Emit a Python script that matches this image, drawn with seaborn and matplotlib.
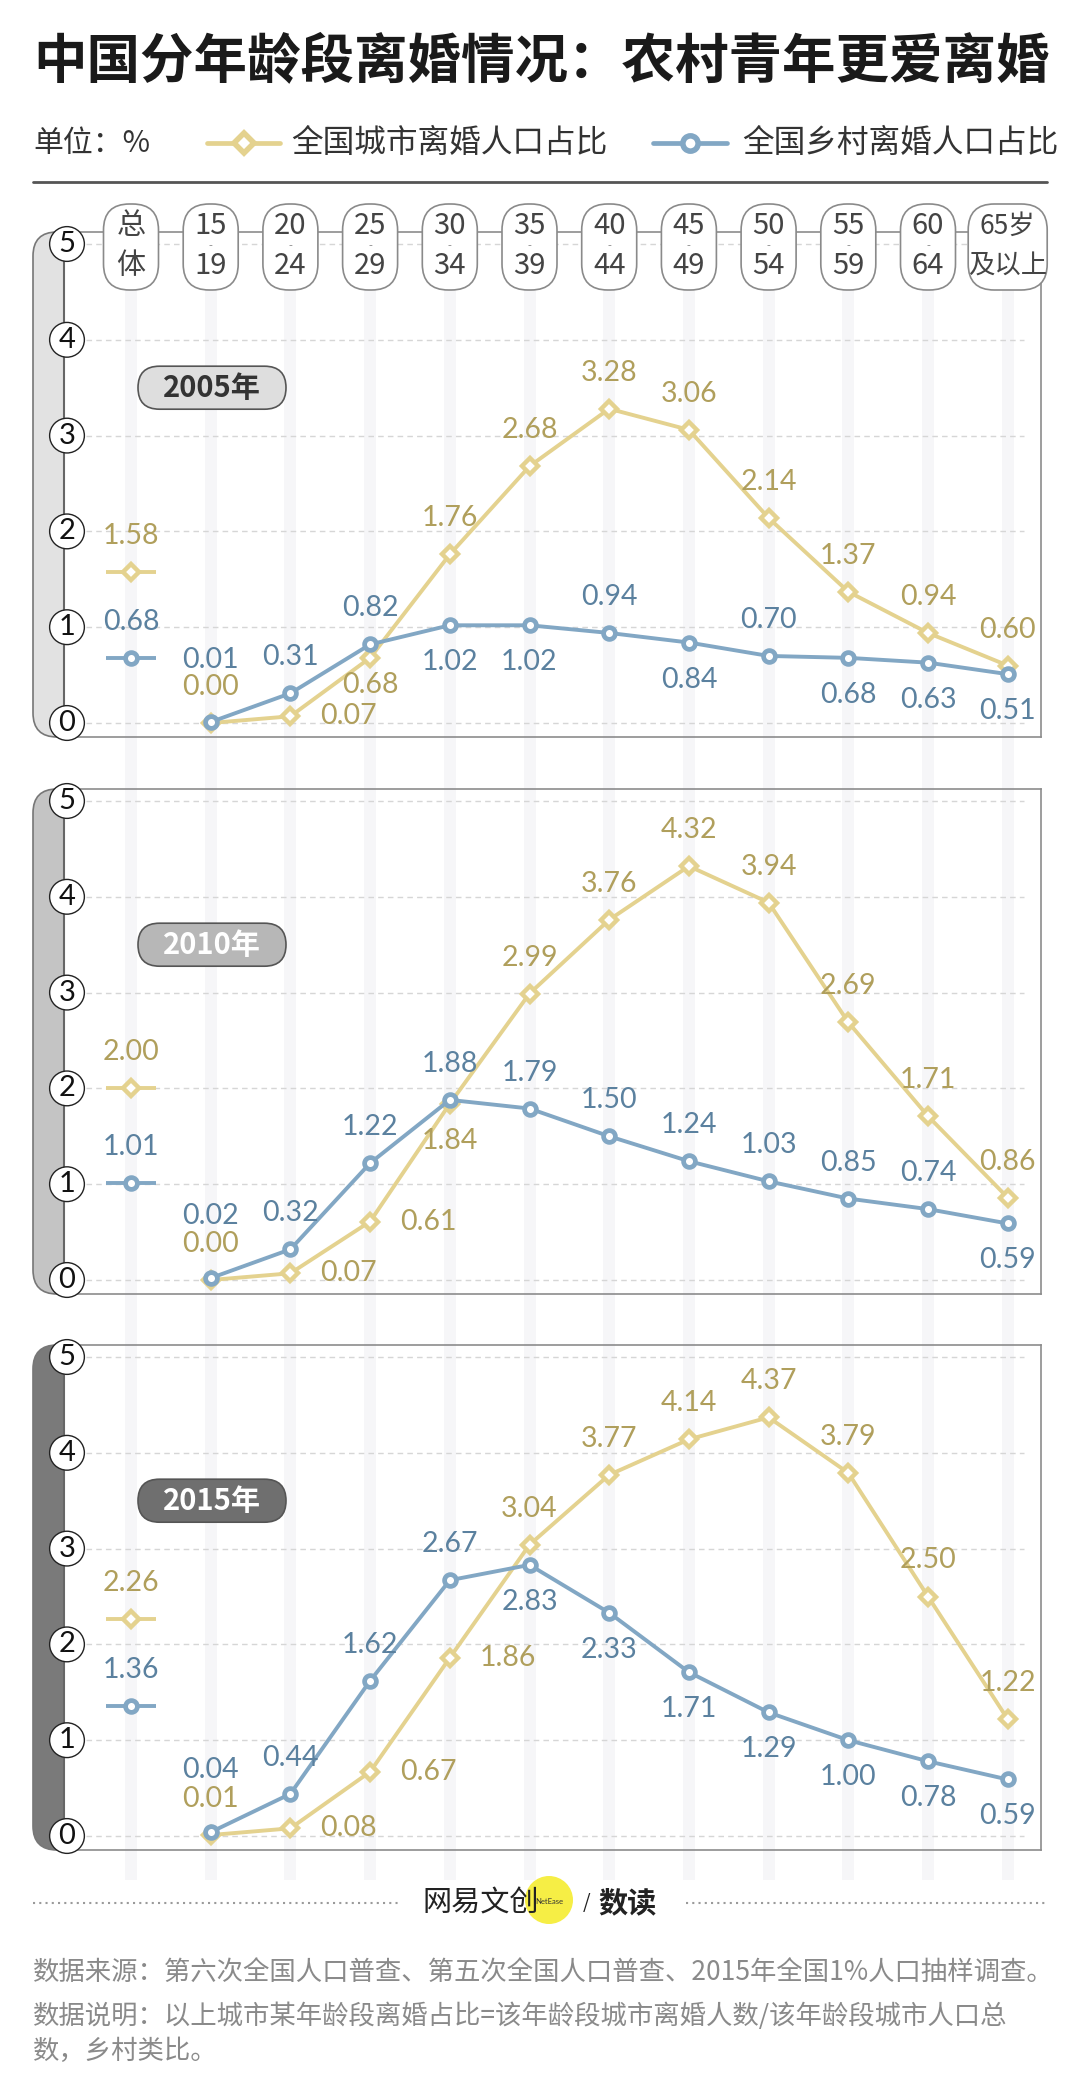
import numpy as np
import pandas as pd
import matplotlib.pyplot as plt
from matplotlib.patches import FancyBboxPatch, Rectangle, Circle
import seaborn as sns

# ---- data ----
header_top = ["总", "15", "20", "25", "30", "35", "40", "45", "50", "55", "60", "65岁"]
header_bottom = ["体", "19", "24", "29", "34", "39", "44", "49", "54", "59", "64", "及以上"]
years = ["2005年", "2010年", "2015年"]

urban_total = [1.58, 2.00, 2.26]
rural_total = [0.68, 1.01, 1.36]

urban_2005 = [0.00, 0.07, 0.68, 1.76, 2.68, 3.28, 3.06, 2.14, 1.37, 0.94, 0.60]
rural_2005 = [0.01, 0.31, 0.82, 1.02, 1.02, 0.94, 0.84, 0.70, 0.68, 0.63, 0.51]
urban_2010 = [0.00, 0.07, 0.61, 1.84, 2.99, 3.76, 4.32, 3.94, 2.69, 1.71, 0.86]
rural_2010 = [0.02, 0.32, 1.22, 1.88, 1.79, 1.50, 1.24, 1.03, 0.85, 0.74, 0.59]
urban_2015 = [0.01, 0.08, 0.67, 1.86, 3.04, 3.77, 4.14, 4.37, 3.79, 2.50, 1.22]
rural_2015 = [0.04, 0.44, 1.62, 2.67, 2.83, 2.33, 1.71, 1.29, 1.00, 0.78, 0.59]

# where each value label sits: a = above, A = higher above, b = below,
# c = just below, r = right
urban_pos = [list("arcaaaaaaaa"),
             list("arrbaaaaaaa"),
             list("arrraaaaaaa")]
rural_pos = [list("Aaabbababbb"),
             list("Aaaaaaaaaab"),
             list("Aaaabbbbbbb")]

# ---- style ----
YEL, YEL_TXT = "#e4d28f", "#b09f5c"
BLU, BLU_TXT = "#82a7c4", "#5b819f"
BAND = ["#e2e2e2", "#c4c4c4", "#7a7a7a"]
PILL = ["#dedede", "#b7b7b7", "#6f6f6f"]
PILL_TXT = ["#333333", "white", "white"]
NUM_FONT = ["Lato", "DejaVu Sans"]

sns.set_style("white")
plt.rcParams["font.family"] = ["Noto Sans CJK SC", "DejaVu Sans"]

W, H = 1080, 2089
X0, DX = 131, 79.7          # pixel x of category 0 and spacing
AX_L, AX_R = 64, 1041
Y0S = [723, 1280, 1836]     # pixel y of value 0 in each panel
UNIT = 95.8
OFF = {"a": (0, 36), "A": (0, 62), "b": (0, -37), "c": (0, -27), "r": (58, 0)}

fig = plt.figure(figsize=(W / 100, H / 100), dpi=100)
bg = fig.add_axes([0, 0, 1, 1], zorder=0)
bg.set_xlim(0, W)
bg.set_ylim(H, 0)
bg.axis("off")
fg = fig.add_axes([0, 0, 1, 1], zorder=5)
fg.set_xlim(0, W)
fg.set_ylim(H, 0)
fg.axis("off")
fg.patch.set_alpha(0)

# title + legend row
bg.text(33, 62, "中国分年龄段离婚情况：农村青年更爱离婚", fontsize=38.5, fontweight="bold",
        color="#1a1a1a", ha="left", va="center")
bg.text(33, 143, "单位：%", fontsize=21.5, color="#333333", ha="left", va="center")
bg.plot([207, 280], [143, 143], color=YEL, lw=3.4)
bg.plot([244], [143], marker="D", markersize=10, markerfacecolor="white",
        markeredgecolor=YEL, markeredgewidth=4)
bg.text(291, 143, "全国城市离婚人口占比", fontsize=22.8, color="#333333", ha="left", va="center")
bg.plot([653, 727], [143, 143], color=BLU, lw=3.4)
bg.plot([690], [143], marker="o", markersize=11, markerfacecolor="white",
        markeredgecolor=BLU, markeredgewidth=4)
bg.text(742, 143, "全国乡村离婚人口占比", fontsize=22.8, color="#333333", ha="left", va="center")
bg.plot([33, 1047], [182, 182], color="#555555", lw=2)

# light column stripes
for i in range(len(header_top)):
    bg.add_patch(Rectangle((X0 + DX * i - 6, 290), 12, 1590, fc="#f6f6f8", ec="none", zorder=0))

# column header pills
for i, (t, b) in enumerate(zip(header_top, header_bottom)):
    cx = X0 + DX * i
    w = 79 if i == len(header_top) - 1 else 55
    fg.add_patch(FancyBboxPatch((cx - w / 2, 204), w, 86, boxstyle="round,pad=0,rounding_size=26",
                                fc="white", ec="#8a8a8a", lw=1.2))
    fs = 19 if i == len(header_top) - 1 else 21
    fg.text(cx, 226, t, fontsize=fs, color="#444444", ha="center", va="center")
    fg.text(cx, 266, b, fontsize=fs, color="#444444", ha="center", va="center")
    if t.isdigit():
        fg.text(cx, 246, "-", fontsize=8, color="#888888", ha="center", va="center")

panels = [(urban_2005, rural_2005), (urban_2010, rural_2010), (urban_2015, rural_2015)]
x_age = np.arange(1, 12)

for k, (urb, rur) in enumerate(panels):
    y0 = Y0S[k]
    top = y0 - 5 * UNIT - 12
    bottom = y0 + 14

    # grey band on the left with rounded corners
    bg.add_patch(FancyBboxPatch((33, top), 70, bottom - top, boxstyle="round,pad=0,rounding_size=24",
                                fc=BAND[k], ec="#777777", lw=1.2, zorder=1))
    bg.add_patch(Rectangle((AX_L, top - 3), 45, bottom - top + 6, fc="white", ec="none", zorder=2))

    ax = fig.add_axes([AX_L / W, 1 - bottom / H, (AX_R - AX_L) / W, (bottom - top) / H], zorder=2)
    ax.patch.set_alpha(0)
    ax.set_xlim((AX_L - X0) / DX, (AX_R - X0) / DX)
    ax.set_ylim(-14 / UNIT, 5 + 12 / UNIT)
    ax.set_xticks([])
    ax.set_yticks([])
    for side in ["top", "right", "bottom"]:
        ax.spines[side].set_color("#8c8c8c")
        ax.spines[side].set_linewidth(1.2)
    ax.spines["left"].set_color("#666666")
    ax.spines["left"].set_linewidth(1.5)

    for v in range(6):
        ax.hlines(v, -0.56, 11.2, color="#d6d6d6", lw=1, ls=(0, (4, 3)), zorder=1)
        ax.text((67 - X0) / DX, v, str(v), fontsize=21, family=NUM_FONT, color="#111111",
                ha="center", va="center", zorder=10, clip_on=False,
                bbox=dict(boxstyle="circle,pad=0.15", fc="white", ec="#222222", lw=1))

    # year pill
    yc = y0 - 3.5 * UNIT
    bg.add_patch(FancyBboxPatch((138, yc - 21.5), 148, 43, boxstyle="round,pad=0,rounding_size=21.5",
                                fc=PILL[k], ec="#555555", lw=1.2, zorder=3))
    bg.text(212, yc, years[k], fontsize=21, fontweight="bold", color=PILL_TXT[k],
            ha="center", va="center", zorder=4)

    series = [(urb, urban_total[k], urban_pos[k], YEL, YEL_TXT, "D", 8.0, 3.2),
              (rur, rural_total[k], rural_pos[k], BLU, BLU_TXT, "o", 8.5, 3.4)]
    for vals, tot, pos, col, tcol, mk, ms, mew in series:
        sns.lineplot(x=x_age, y=vals, ax=ax, color=col, linewidth=2.8, marker=mk,
                     markersize=ms, markerfacecolor="white", markeredgecolor=col,
                     markeredgewidth=mew, legend=False, zorder=4)
        # overall value shown as a legend-like symbol in the first column
        ax.hlines(tot, -0.31, 0.31, color=col, lw=2.8, zorder=4)
        sns.lineplot(x=[0], y=[tot], ax=ax, color=col, marker=mk, markersize=ms,
                     markerfacecolor="white", markeredgecolor=col, markeredgewidth=mew,
                     legend=False, zorder=5)
        ax.annotate(f"{tot:.2f}", (0, tot), xytext=(0, 36 * 0.72), textcoords="offset points",
                    ha="center", va="center", fontsize=20.5, family=NUM_FONT, color=tcol)
        for x, v, p in zip(x_age, vals, pos):
            dx, dy = OFF[p]
            ax.annotate(f"{v:.2f}", (x, v), xytext=(dx * 0.72, dy * 0.72), textcoords="offset points",
                        ha="center", va="center", fontsize=20.5, family=NUM_FONT, color=tcol, zorder=6)
    ax.set_xlabel("")
    ax.set_ylabel("")

# footer
bg.plot([33, 398], [1903, 1903], color="#9a9a9a", lw=1.5, ls=(0, (1, 2)))
bg.plot([686, 1046], [1903, 1903], color="#9a9a9a", lw=1.5, ls=(0, (1, 2)))
bg.add_patch(Circle((549, 1900), 24, fc="#f6ee45", ec="none"))
bg.text(422, 1903, "网易文创", fontsize=21, color="#222222", ha="left", va="center")
bg.text(549, 1901, "NetEase", fontsize=5.5, color="#333333", ha="center", va="center", family=NUM_FONT)
bg.text(583, 1903, "/", fontsize=14, color="#222222", ha="left", va="center")
bg.text(598, 1903, "数读", fontsize=21, fontweight="bold", color="#222222", ha="left", va="center")

src_col = "#8a8a8a"
bg.text(33, 1972, "数据来源：第六次全国人口普查、第五次全国人口普查、2015年全国1%人口抽样调查。",
        fontsize=19, color=src_col, ha="left", va="center")
bg.text(33, 2016, "数据说明：以上城市某年龄段离婚占比=该年龄段城市离婚人数/该年龄段城市人口总",
        fontsize=19, color=src_col, ha="left", va="center")
bg.text(33, 2051, "数，乡村类比。", fontsize=19, color=src_col, ha="left", va="center")

fig.savefig("out.png", dpi=100, facecolor="white")
